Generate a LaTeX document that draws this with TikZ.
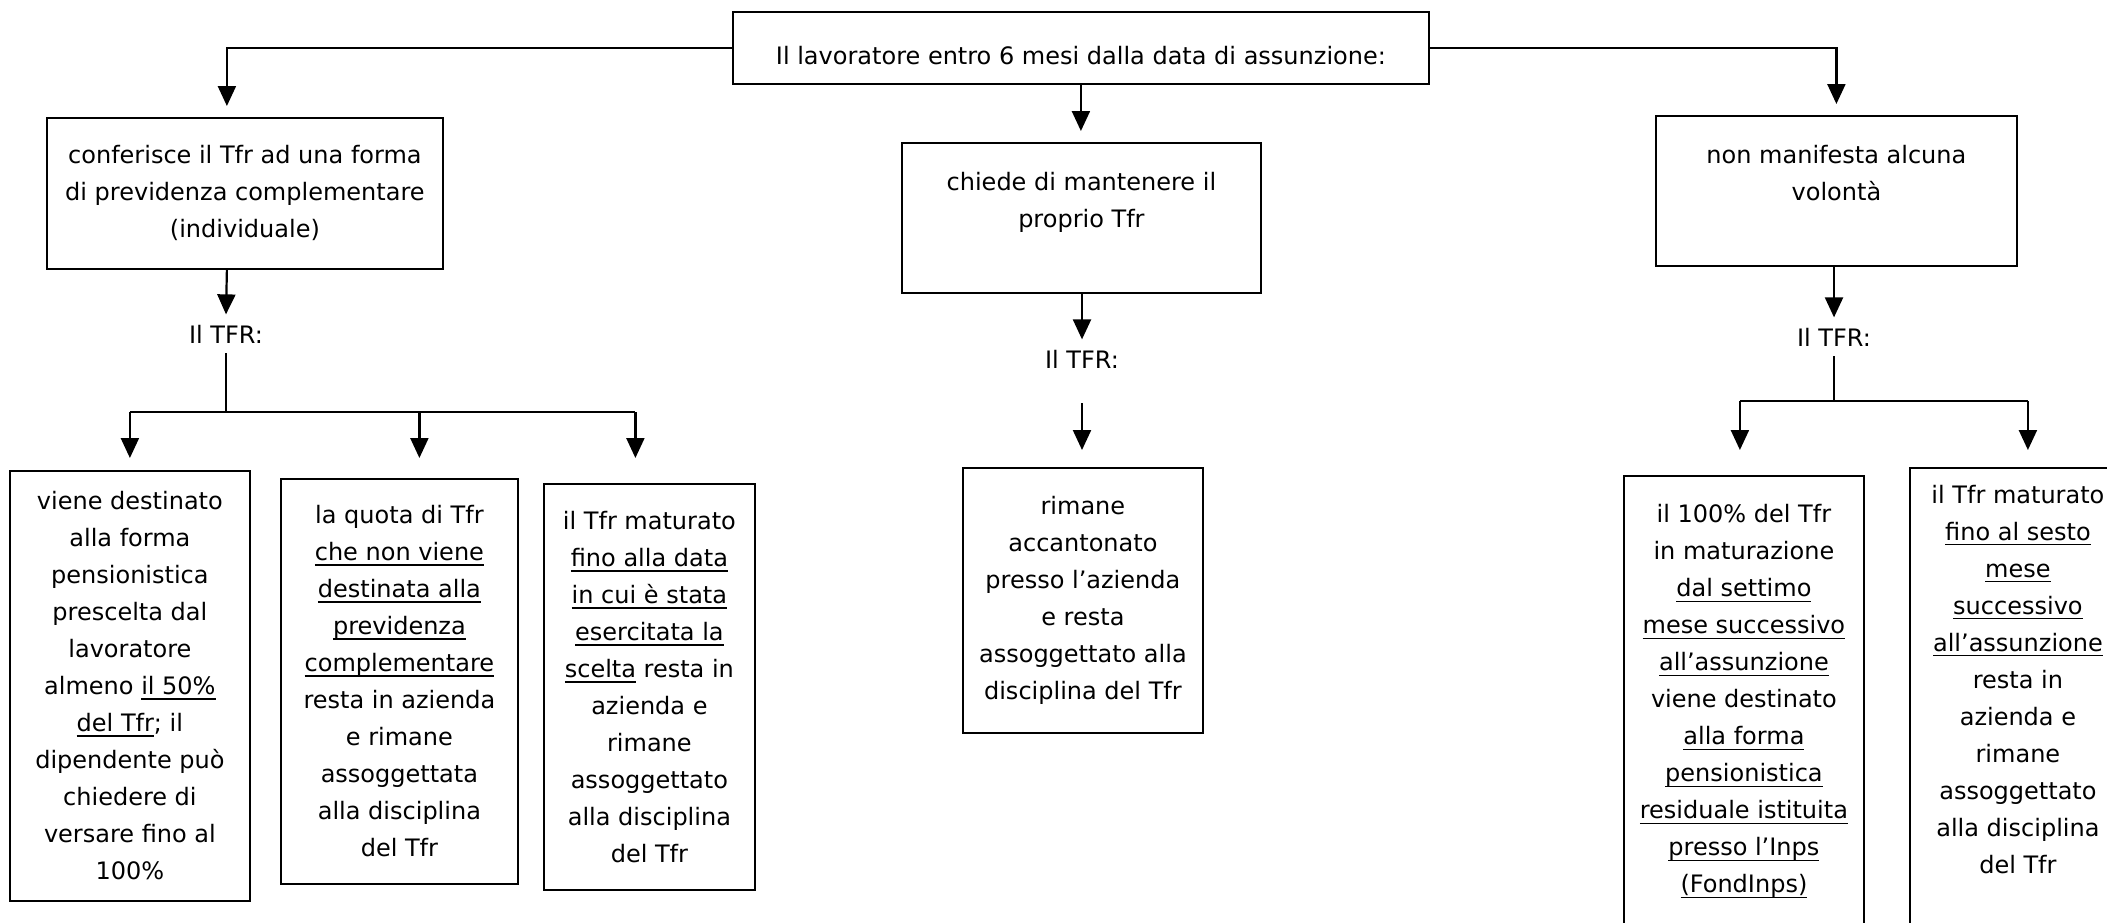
\documentclass[tikz,border=0pt]{standalone}
\usepackage{fontspec}
\setmainfont{DejaVu Sans}
\usetikzlibrary{arrows.meta}

\newcommand\uln[1]{\setbox0\hbox{#1}\rlap{\rule[-2.6pt]{\wd0}{0.8pt}}\box0\relax}

\begin{document}
\begin{tikzpicture}
  [
    x=0.5pt,
    y=-0.5pt,
    every node/.style={
      font=\fontsize{12}{18.5}\selectfont
    },
    box/.style={
      draw,
      line width=0.9pt,
      anchor=north west,
      align=center,
      inner sep=0pt
    },
    arr/.style={
      line width=1.1pt,
      -{Triangle[length=10pt,width=9pt]},
      shorten >=5.5pt
    },
    tfr/.style={
      anchor=base,
      inner sep=5pt
    }
  ]

  \useasboundingbox (0,0) rectangle (2107,922);
  \clip (0,0) rectangle (2107,922);

  \node [box,minimum width=348pt,minimum height=36pt,text height=17pt] (top) at (732,11) {Il lavoratore entro 6 mesi dalla data di assunzione:};

  \node [box,minimum width=198pt,minimum height=75.5pt] (cA) at (46,117) {conferisce il Tfr ad una forma\\di previdenza complementare\\(individuale)};
  \node [box,minimum width=179.5pt,minimum height=75pt] (cB) at (901,142) {chiede di mantenere il\\proprio Tfr\\~};
  \node [box,minimum width=180.5pt,minimum height=75pt] (cC) at (1655,115) {non manifesta alcuna\\volontà\\~};

  \node [tfr] (tfrA) at (226,343) {Il TFR:};
  \node [tfr] (tfrB) at (1082,368) {Il TFR:};
  \node [tfr] (tfrC) at (1834,346) {Il TFR:};

  \node [box,minimum width=120pt,minimum height=215pt] (dA) at (9,470) {viene destinato\\alla forma\\pensionistica\\prescelta dal\\lavoratore\\almeno \uln{il 50\%}\\\uln{del Tfr}; il\\dipendente può\\chiedere di\\versare fino al\\100\%};
  \node [box,minimum width=118.5pt,minimum height=202.5pt] (dB) at (280,478) {la quota di Tfr\\\uln{che non viene}\\\uln{destinata alla}\\\uln{previdenza}\\\uln{complementare}\\resta in azienda\\e rimane\\assoggettata\\alla disciplina\\del Tfr};
  \node [box,minimum width=105.5pt,minimum height=203pt] (dC) at (543,483) {il Tfr maturato\\\uln{fino alla data}\\\uln{in cui è stata}\\\uln{esercitata la}\\\uln{scelta} resta in\\azienda e\\rimane\\assoggettato\\alla disciplina\\del Tfr};

  \node [box,minimum width=120pt,minimum height=132.5pt] (eB) at (962,467) {rimane\\accantonato\\presso l’azienda\\e resta\\assoggettato alla\\disciplina del Tfr};

  \node [box,minimum width=120pt,minimum height=225.5pt] (fA) at (1623,475) {il 100\% del Tfr\\in maturazione\\\uln{dal settimo}\\\uln{mese successivo}\\\uln{all’assunzione}\\viene destinato\\\uln{alla forma}\\\uln{pensionistica}\\\uln{residuale istituita}\\\uln{presso l’Inps}\\\uln{(FondInps)}};
  \node [box,minimum width=108pt,minimum height=229.5pt] (fB) at (1909,467) {il Tfr maturato\\\uln{fino al sesto}\\\uln{mese}\\\uln{successivo}\\\uln{all’assunzione}\\resta in\\azienda e\\rimane\\assoggettato\\alla disciplina\\del Tfr\\~};

  \coordinate (barA) at (226,412);
  \coordinate (barC) at (1834,401);

  \draw [arr] (top.west) -| ([xshift=-9pt]cA.north);
  \draw [arr] (top.south) -- (top.south |- cB.north);
  \draw [arr] (top.east) -| (cC.north);

  \draw [arr,shorten >=0pt] ([xshift=-9pt]cA.south) -- (tfrA.north);
  \draw [arr,shorten >=0pt] (cB.south -| tfrB) -- (tfrB.north);
  \draw [arr,shorten >=0pt] (cC.south -| tfrC) -- (tfrC.north);

  \draw [line width=0.6pt] (tfrA.south) -- (barA);
  \draw [line width=1.1pt] (dA.north |- barA) -- ([xshift=-7pt]dC.north |- barA);
  \draw [arr,shorten >=6pt] (dA.north |- barA) -- (dA.north);
  \draw [arr,shorten >=10pt] ([xshift=10pt]dB.north |- barA) -- ([xshift=10pt]dB.north);
  \draw [arr,shorten >=12.5pt] ([xshift=-7pt]dC.north |- barA) -- ([xshift=-7pt]dC.north);

  \draw [arr,shorten <=12.5pt,shorten >=8.5pt] (tfrB.south) -- (tfrB.south |- eB.north);

  \draw [line width=0.6pt] (tfrC.south) -- (barC);
  \draw [line width=1.1pt] ([xshift=-2pt]fA.north |- barC) -- ([xshift=5pt]fB.north |- barC);
  \draw [arr,shorten >=12.5pt] ([xshift=-2pt]fA.north |- barC) -- ([xshift=-2pt]fA.north);
  \draw [arr,shorten >=8.5pt] ([xshift=5pt]fB.north |- barC) -- ([xshift=5pt]fB.north);

\end{tikzpicture}
\end{document}
